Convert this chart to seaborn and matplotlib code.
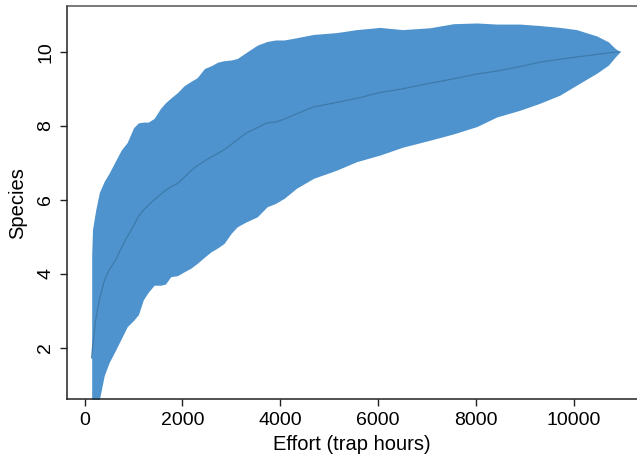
import numpy as np
import pandas as pd
import matplotlib
matplotlib.use("Agg")
import matplotlib.pyplot as plt
import seaborn as sns

# ---- data ----
effort = [143, 160, 225, 300, 400, 500, 630, 750, 870, 1000, 1100, 1200, 1300, 1420,
          1550, 1650, 1760, 1900, 2030, 2170, 2300, 2450, 2580, 2720, 2850, 3000, 3120,
          3300, 3530, 3730, 3900, 4080, 4330, 4680, 5150, 5560, 6040, 6500, 7060, 7540,
          8020, 8430, 8900, 9310, 9720, 10060, 10470, 10710, 10850, 10950]

upper = [4.5, 5.2, 5.72, 6.2, 6.5, 6.72, 7.05, 7.35, 7.55, 7.95, 8.08, 8.1, 8.1, 8.2,
         8.47, 8.62, 8.75, 8.9, 9.08, 9.2, 9.3, 9.55, 9.62, 9.72, 9.76, 9.78, 9.82,
         9.98, 10.18, 10.28, 10.32, 10.32, 10.38, 10.47, 10.52, 10.6, 10.66, 10.6, 10.65, 10.76,
         10.78, 10.75, 10.75, 10.71, 10.66, 10.6, 10.43, 10.27, 10.09, 10.0]

lower = [-1.0, -0.6, 0.1, 0.6, 1.25, 1.6, 1.93, 2.25, 2.57, 2.74, 2.9, 3.3, 3.5, 3.69,
         3.69, 3.72, 3.92, 3.95, 4.05, 4.15, 4.28, 4.45, 4.59, 4.7, 4.82, 5.1, 5.27,
         5.4, 5.54, 5.81, 5.9, 6.04, 6.31, 6.58, 6.8, 7.03, 7.21, 7.42, 7.61, 7.78,
         7.98, 8.24, 8.42, 8.61, 8.83, 9.1, 9.42, 9.64, 9.86, 10.0]

mean = [1.72, 2.0, 2.75, 3.3, 3.8, 4.1, 4.37, 4.7, 5.0, 5.3, 5.55, 5.72, 5.85, 6.0,
        6.14, 6.25, 6.35, 6.44, 6.6, 6.78, 6.92, 7.05, 7.15, 7.25, 7.35, 7.5, 7.62,
        7.8, 7.95, 8.08, 8.1, 8.18, 8.32, 8.51, 8.63, 8.74, 8.9, 9.0, 9.15, 9.27,
        9.4, 9.48, 9.6, 9.72, 9.8, 9.86, 9.93, 9.97, 9.99, 10.0]

x_ticks = [0, 2000, 4000, 6000, 8000, 10000]
y_ticks = [2, 4, 6, 8, 10]

df = pd.DataFrame({"effort": effort, "species": mean, "lo": lower, "hi": upper})

sns.set_theme(style="white")
plt.rcParams["font.family"] = ["Liberation Sans", "DejaVu Sans"]

fig = plt.figure(figsize=(6.37, 4.58), dpi=100)
ax = fig.add_axes([0.1047, 0.1288, 0.8953, 0.8574])

fill_color = "#4E93CD"
ax.fill_between(df["effort"], df["lo"], df["hi"], color=fill_color, linewidth=0, zorder=1)
sns.lineplot(data=df, x="effort", y="species", ax=ax, color="#3E7BAB", linewidth=0.9,
             zorder=2, estimator=None, sort=False)

ax.set_xlim(-368, 11295)
ax.set_ylim(0.614, 11.23)
ax.set_xticks(x_ticks)
ax.set_yticks(y_ticks)
ax.set_xticklabels([str(t) for t in x_ticks])
ax.set_yticklabels([str(t) for t in y_ticks], rotation=90, va="center")

ax.set_xlabel("Effort (trap hours)", fontsize=14.5, labelpad=5, color="black")
ax.set_ylabel("Species", fontsize=14.5, labelpad=7, color="black")

ax.tick_params(axis="both", which="major", labelsize=14, length=5, width=1,
               color="#222222", labelcolor="black", direction="out",
               bottom=True, left=True, pad=4)

for side in ["left", "bottom"]:
    ax.spines[side].set_color("#222222")
    ax.spines[side].set_linewidth(1.1)
ax.spines["top"].set_color("#555555")
ax.spines["top"].set_linewidth(1.1)
ax.spines["right"].set_visible(False)
ax.grid(False)

fig.savefig("out.png", dpi=100)
